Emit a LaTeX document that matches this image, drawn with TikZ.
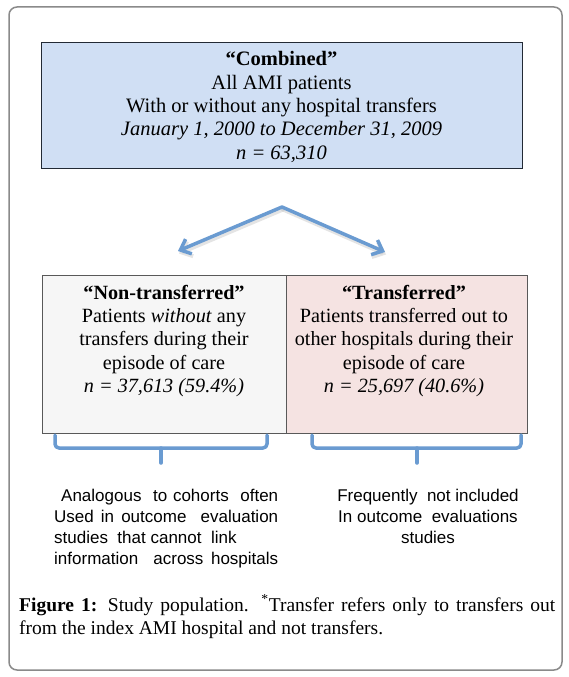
\documentclass[tikz,border=0pt]{standalone}
\usepackage{fontspec}
\setmainfont{Liberation Serif}
\newfontfamily\arialf{Liberation Sans}
\usetikzlibrary{arrows.meta}
\definecolor{topfill}{HTML}{D0DFF4}
\definecolor{leftfill}{HTML}{F6F6F6}
\definecolor{rightfill}{HTML}{F5E3E2}
\definecolor{arrowblue}{HTML}{6A9BD1}
\definecolor{framegray}{HTML}{8A8A8A}
\definecolor{topborder}{HTML}{222A35}
\begin{document}
\begin{tikzpicture}[x=1pt,y=-1pt,
  boxtext/.style={align=center,font=\fontsize{20.5}{23.4}\selectfont,inner sep=0pt},
  notetext/.style={font=\arialf\fontsize{17}{21}\selectfont,inner sep=0pt},
  blueline/.style={draw=arrowblue,line width=3.5pt,line join=round,line cap=round},
  shadowline/.style={draw=black!30,line width=4pt,opacity=0.35,line join=round,line cap=round},
  barb/.style={-{Straight Barb[length=9pt,width=16pt]}},
  topbox/.style={draw=topborder,line width=1.2pt,fill=topfill,anchor=north west,inner sep=0pt},
  lowbox/.style={draw=black!65,line width=0.7pt,anchor=north west,inner sep=0pt,minimum height=158pt}]
\useasboundingbox (0,0) rectangle (568,677);
\fill[white] (0,0) rectangle (568,677);
\draw[framegray,line width=1.5pt,rounded corners=8pt] (9,7) rectangle (562,670);

% top box
\node[topbox,minimum width=481pt,minimum height=126pt] (combined) at (41,42) {};
\node[boxtext] (combinedtext) at (281.5,107) {\textbf{“Combined”}\\All AMI patients\\With or without any hospital transfers\\\textit{January 1, 2000 to December 31, 2009}\\\textit{n = 63,310}};

% lower boxes
\node[lowbox,fill=leftfill,minimum width=244pt] (nontr) at (42,275) {};
\node[lowbox,fill=rightfill,minimum width=241pt] (tr) at (286,275) {};
\node[boxtext,font=\fontsize{20.2}{23.4}\selectfont] (nontrtext) at (164,341) {\textbf{“Non-transferred”}\\Patients \textit{without} any\\transfers during their\\episode of care\\\textit{n = 37,613 (59.4\%)}};
\node[boxtext,font=\fontsize{20.2}{23.4}\selectfont] (trtext) at (404,341) {\textbf{“Transferred”}\\Patients transferred out to\\other hospitals during their\\episode of care\\\textit{n = 25,697 (40.6\%)}};

% arrows
\coordinate (apex) at (282,207);
\coordinate (tipl) at (178,251);
\coordinate (tipr) at (385,252);
\coordinate (apexs) at (283,209.5);
\coordinate (tipls) at (179,253.5);
\coordinate (tiprs) at (386,254.5);
\draw[shadowline,barb] (apexs) -- (tipls);
\draw[shadowline,barb] (apexs) -- (tiprs);
\draw[blueline,barb] (apex) -- (tipl);
\draw[blueline,barb] (apex) -- (tipr);

% braces
\coordinate (bla) at (55,435);
\coordinate (blb) at (267,435);
\coordinate (blm) at (161,448);
\coordinate (blend) at (161,463);
\coordinate (bra) at (312,435);
\coordinate (brb) at (521,435);
\coordinate (brm) at (417,448);
\coordinate (brend) at (417,463);
\draw[blueline,rounded corners=4pt] (bla) |- (blm) -| (blb);
\draw[blueline] (blm) -- (blend);
\draw[blueline,rounded corners=4pt] (bra) |- (brm) -| (brb);
\draw[blueline] (brm) -- (brend);

% notes
\node[notetext,align=left,anchor=north west] (leftnote) at (54,489) {\hspace*{7pt}\makebox[217pt][s]{Analogous\ \ to cohorts\ \ often}\\\makebox[224pt][s]{Used in outcome\ \ evaluation}\\studies\ \ that cannot\ \ link\\\makebox[224pt][s]{information\ \ across hospitals}};
\node[notetext,align=center,anchor=north] (rightnote) at (428,489) {Frequently\ \ not included\\In outcome\ \ evaluations\\studies};

% caption
\node[font=\fontsize{19.5}{23}\selectfont,inner sep=0pt,anchor=base west] (cap1) at (19,611) {\makebox[536pt][s]{\textbf{Figure 1:} Study population. \textsuperscript{*}Transfer refers only to transfers out}};
\node[font=\fontsize{19.5}{23}\selectfont,inner sep=0pt,anchor=base west] (cap2) at (19,634) {from the index AMI hospital and not transfers.};
\end{tikzpicture}
\end{document}
